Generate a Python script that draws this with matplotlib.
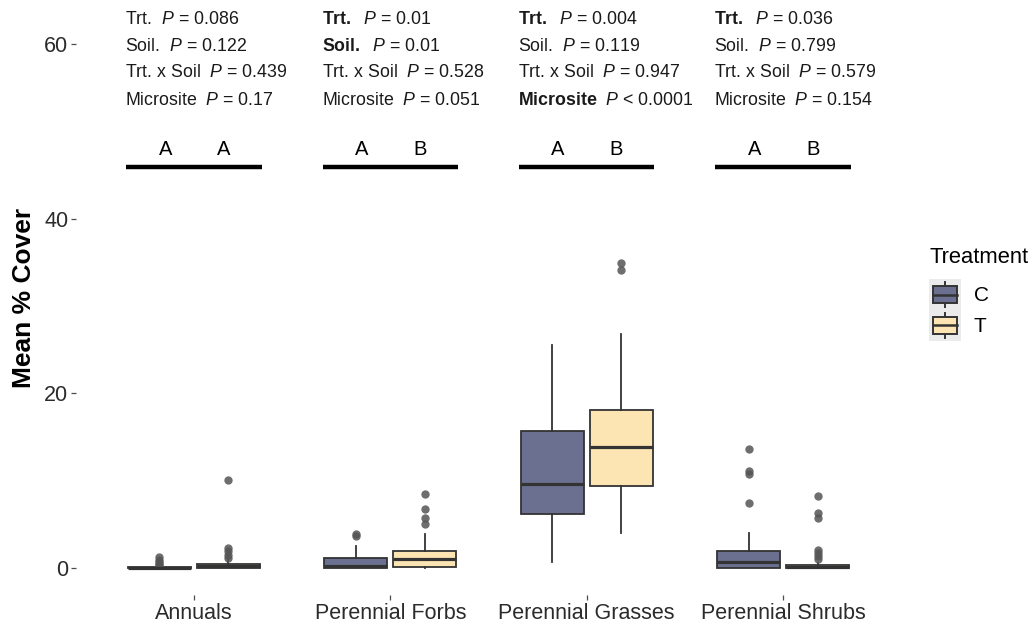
import matplotlib
matplotlib.use("Agg")
import matplotlib.pyplot as plt
from matplotlib.patches import Rectangle
from matplotlib.lines import Line2D
from matplotlib.legend_handler import HandlerBase

plt.rcParams['font.family'] = ['Liberation Sans', 'DejaVu Sans']
plt.rcParams['mathtext.fontset'] = 'custom'
plt.rcParams['mathtext.rm'] = 'Liberation Sans'
plt.rcParams['mathtext.it'] = 'Liberation Sans:italic'
plt.rcParams['mathtext.bf'] = 'Liberation Sans:bold'

# data
categories = ["Annuals", "Perennial Forbs", "Perennial Grasses", "Perennial Shrubs"]
treatments = ["C", "T"]

c_q1 = [0.0, 0.0, 6.2, 0.0]
c_med = [0.0, 0.2, 9.6, 0.7]
c_q3 = [0.1, 1.2, 15.7, 1.95]
c_lo = [0.0, 0.0, 0.7, 0.0]
c_hi = [0.3, 2.5, 25.5, 4.0]
c_fliers = [[1.3, 0.9, 0.7, 0.5, 0.4], [3.9, 3.7], [], [13.6, 11.1, 10.8, 7.4]]

t_q1 = [0.0, 0.15, 9.4, 0.0]
t_med = [0.2, 1.0, 13.9, 0.1]
t_q3 = [0.5, 1.95, 18.1, 0.3]
t_lo = [0.0, 0.0, 4.0, 0.0]
t_hi = [1.0, 3.9, 26.8, 0.6]
t_fliers = [[10.1, 2.3, 1.9, 1.5, 1.1], [8.5, 6.8, 5.7, 5.0], [34.9, 34.1],
            [8.2, 6.3, 5.7, 2.1, 1.7, 1.4, 1.0]]

term_labels = ["Trt.", "Soil.", "Trt. x Soil", "Microsite"]
p_values = [["= 0.086", "= 0.122", "= 0.439", "= 0.17"],
            ["= 0.01", "= 0.01", "= 0.528", "= 0.051"],
            ["= 0.004", "= 0.119", "= 0.947", "< 0.0001"],
            ["= 0.036", "= 0.799", "= 0.579", "= 0.154"]]
p_bold = [[False, False, False, False],
          [True, True, False, False],
          [True, False, False, True],
          [True, False, False, False]]
letters = [["A", "A"], ["A", "B"], ["A", "B"], ["A", "B"]]

text_y = [62.8, 59.7, 56.7, 53.6]
letter_y = 47.9
bar_y = 45.9

colors = {"C": "#6b7091", "T": "#fce5b3"}
edge = "#333333"
offset = 0.176
width = 0.32

fig = plt.figure(figsize=(10.33, 6.25), dpi=100)
ax = fig.add_axes([76 / 1033, 30 / 625, 825 / 1033, 595 / 625])

groups = {"C": (c_q1, c_med, c_q3, c_lo, c_hi, c_fliers, -offset),
          "T": (t_q1, t_med, t_q3, t_lo, t_hi, t_fliers, offset)}

for tr in treatments:
    q1, med, q3, lo, hi, fl, dx = groups[tr]
    stats = []
    for i in range(len(categories)):
        stats.append(dict(q1=q1[i], med=med[i], q3=q3[i], whislo=lo[i], whishi=hi[i], fliers=fl[i]))
    ax.bxp(stats, positions=[i + dx for i in range(len(categories))], widths=width,
           patch_artist=True, showcaps=False,
           boxprops=dict(facecolor=colors[tr], edgecolor=edge, linewidth=1.3),
           medianprops=dict(color=edge, linewidth=2.3),
           whiskerprops=dict(color=edge, linewidth=1.3),
           flierprops=dict(marker="o", markerfacecolor="#555555", markeredgecolor="none",
                           markersize=6, alpha=0.85))

# p-value annotations, letters and bars
for i in range(len(categories)):
    for j, lab in enumerate(term_labels):
        if p_bold[i][j]:
            s = r"$\mathbf{" + lab + "}$" + r"  $\mathit{P}$ " + p_values[i][j]
        else:
            s = lab + r"  $\mathit{P}$ " + p_values[i][j]
        ax.text(i - 0.35, text_y[j], s, fontsize=12.8, color="#1a1a1a", va="center", ha="left")
    ax.text(i - offset + 0.03, letter_y, letters[i][0], fontsize=14.5, ha="center", va="center")
    ax.text(i + offset - 0.025, letter_y, letters[i][1], fontsize=14.5, ha="center", va="center")
    ax.plot([i - 0.345, i + 0.345], [bar_y, bar_y], color="black", linewidth=3.2,
            solid_capstyle="butt")

ax.set_xlim(-0.6, 3.6)
ax.set_ylim(-3.09, 65.06)
ax.set_xticks(range(len(categories)))
ax.set_xticklabels(categories)
ax.set_yticks([0, 20, 40, 60])
ax.tick_params(axis="both", labelsize=15.5, labelcolor="#2b2b2b", color="#4d4d4d",
               length=3.5, width=0.9, pad=2)
for sp in ax.spines.values():
    sp.set_visible(False)
ax.set_ylabel("Mean % Cover", fontsize=19, fontweight="bold", labelpad=6)


class BoxKey(HandlerBase):
    def create_artists(self, legend, orig_handle, xdescent, ydescent, width, height,
                       fontsize, trans):
        fc = orig_handle.get_facecolor()
        bg = Rectangle((-xdescent, -ydescent), width, height, facecolor="#ebebeb",
                       edgecolor="none", transform=trans)
        bw, bh = width * 0.76, height * 0.55
        x0 = -xdescent + (width - bw) / 2
        y0 = -ydescent + (height - bh) / 2
        box = Rectangle((x0, y0), bw, bh, facecolor=fc, edgecolor=edge, linewidth=1.4,
                        transform=trans)
        xc = -xdescent + width / 2
        w1 = Line2D([xc, xc], [-ydescent + 2, y0], color=edge, linewidth=1.4, transform=trans)
        w2 = Line2D([xc, xc], [y0 + bh, -ydescent + height - 2], color=edge, linewidth=1.4,
                    transform=trans)
        m = Line2D([x0, x0 + bw], [y0 + bh / 2] * 2, color=edge, linewidth=1.8, transform=trans)
        return [bg, w1, w2, box, m]


handles = [Rectangle((0, 0), 1, 1, facecolor=colors[t]) for t in treatments]
leg = fig.legend(handles, treatments, title="Treatment", handler_map={Rectangle: BoxKey()},
                 loc="upper left", bbox_to_anchor=(929 / 1033, 1 - 247 / 625), frameon=False,
                 fontsize=15, title_fontsize=15.8, handlelength=1.55, handleheight=1.9,
                 handletextpad=0.6, labelspacing=0.0, borderaxespad=0, borderpad=0)
leg._legend_box.align = "left"
leg._legend_box.sep = 8

fig.savefig("out.png", dpi=100)
